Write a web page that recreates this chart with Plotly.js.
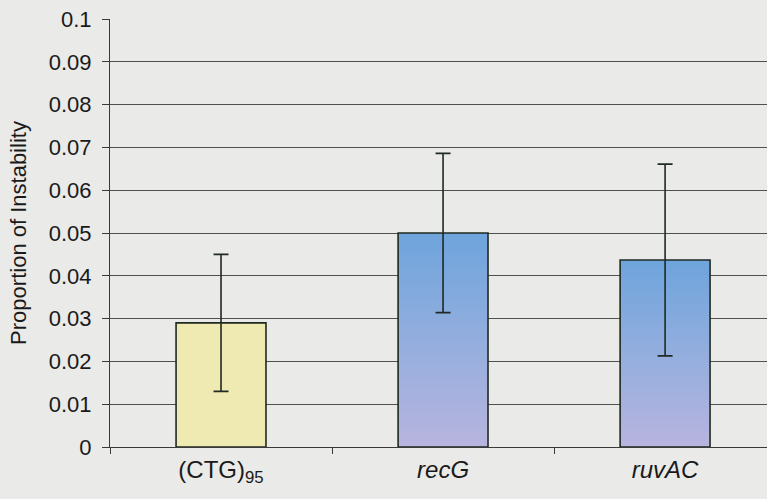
<!DOCTYPE html>
<html>
<head>
<meta charset="utf-8">
<script src="https://cdn.plot.ly/plotly-3.0.1.min.js"></script>
<style>
  html, body { margin: 0; padding: 0; background: #eaeae8; }
  #chart { width: 767px; height: 499px; }
</style>
</head>
<body>
<div id="chart"></div>
<script>
// ---- data ----
const categories = ["(CTG)<sub>95</sub>", "<i>recG</i>", "<i>ruvAC</i>"];
const proportion = [0.029, 0.050, 0.0437];
const errors = [0.016, 0.0186, 0.0224];
const yTickValues = [0, 0.01, 0.02, 0.03, 0.04, 0.05, 0.06, 0.07, 0.08, 0.09, 0.1];
const yTickLabels = ["0", "0.01", "0.02", "0.03", "0.04", "0.05", "0.06", "0.07", "0.08", "0.09", "0.1"];

const barColors = ["#efe9b2", "#7aa9de", "#7aa9de"];

const trace = {
  type: "bar",
  x: categories,
  y: proportion,
  marker: { color: barColors, line: { color: "#1f2a22", width: 1.6 } },
  error_y: { type: "data", array: errors, visible: true, color: "#1f2a22", thickness: 1.6, width: 7.5 },
  hoverinfo: "skip"
};

const font = "Liberation Sans, Arial, sans-serif";
const layout = {
  width: 767, height: 499,
  margin: { l: 110, r: 0, t: 19, b: 52 },
  paper_bgcolor: "#eaeae8",
  plot_bgcolor: "#eaeae8",
  showlegend: false,
  bargap: 0.595,
  font: { family: font, color: "#1a1a1a", size: 21 },
  xaxis: {
    type: "category",
    range: [-0.5, 2.459],
    showgrid: false,
    zeroline: false,
    showline: true, linecolor: "#3a3a3a", linewidth: 1,
    ticks: "outside", tickson: "boundaries", ticklen: 6, tickcolor: "#3a3a3a",
    tickfont: { family: font, size: 24, color: "#1a1a1a" },
    ticklabelstandoff: 1,
    fixedrange: true
  },
  yaxis: {
    range: [0, 0.1],
    tickvals: yTickValues,
    ticktext: yTickLabels,
    showgrid: true, gridcolor: "#505050", gridwidth: 1,
    zeroline: false,
    showline: true, linecolor: "#3a3a3a", linewidth: 1,
    ticks: "outside", ticklen: 7, tickcolor: "#3a3a3a",
    tickfont: { family: font, size: 22, color: "#1a1a1a" },
    ticklabelstandoff: 6,
    title: { text: "Proportion of Instability", font: { family: font, size: 22, color: "#1a1a1a" }, standoff: 16 },
    fixedrange: true
  }
};

Plotly.newPlot("chart", [trace], layout, { displayModeBar: false, staticPlot: true }).then(function (gd) {
  // vertical gradient (blue top -> lavender bottom) for the recG and ruvAC bars
  const svg = gd.querySelector("svg.main-svg");
  const ns = "http://www.w3.org/2000/svg";
  let defs = svg.querySelector("defs");
  if (!defs) { defs = document.createElementNS(ns, "defs"); svg.insertBefore(defs, svg.firstChild); }
  const grad = document.createElementNS(ns, "linearGradient");
  grad.setAttribute("id", "blueLavender");
  grad.setAttribute("x1", "0"); grad.setAttribute("y1", "0");
  grad.setAttribute("x2", "0"); grad.setAttribute("y2", "1");
  [["0", "#6ea4dc"], ["0.5", "#93aede"], ["1", "#b8b4df"]].forEach(function (s) {
    const st = document.createElementNS(ns, "stop");
    st.setAttribute("offset", s[0]);
    st.setAttribute("stop-color", s[1]);
    grad.appendChild(st);
  });
  defs.appendChild(grad);
  const paths = gd.querySelectorAll(".barlayer .point path");
  paths.forEach(function (p, i) {
    if (i > 0) p.style.fill = "url(#blueLavender)";
  });
});
</script>
</body>
</html>
